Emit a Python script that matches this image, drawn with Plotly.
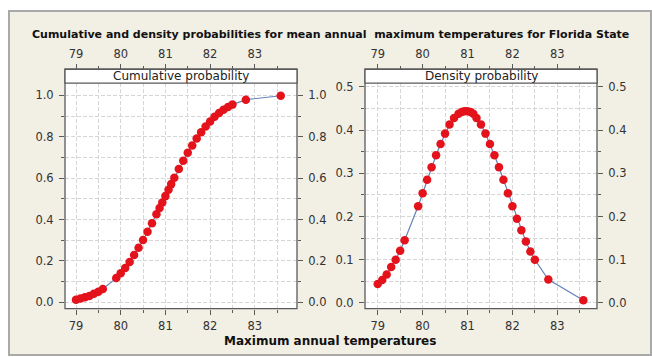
import plotly.graph_objects as go

# ---- data ----
temps = [79.0, 79.1, 79.2, 79.3, 79.4, 79.5, 79.6, 79.9, 80.0, 80.1, 80.2, 80.3, 80.4,
         80.5, 80.6, 80.7, 80.8, 80.87, 80.93, 81.0, 81.07, 81.13, 81.2, 81.3, 81.4,
         81.5, 81.6, 81.7, 81.8, 81.9, 82.0, 82.1, 82.2, 82.3, 82.4, 82.5, 82.8, 83.58]
cumulative = [0.013, 0.019, 0.024, 0.031, 0.041, 0.051, 0.064, 0.117, 0.140, 0.166, 0.195,
              0.229, 0.264, 0.301, 0.341, 0.382, 0.425, 0.456, 0.482, 0.513, 0.544, 0.571,
              0.602, 0.644, 0.684, 0.722, 0.758, 0.791, 0.821, 0.849, 0.873, 0.896, 0.915,
              0.930, 0.944, 0.955, 0.979, 0.998]
density = [0.044, 0.053, 0.066, 0.083, 0.100, 0.121, 0.145, 0.224, 0.254, 0.285, 0.314,
           0.342, 0.368, 0.392, 0.413, 0.428, 0.438, 0.442, 0.444, 0.444, 0.442, 0.438,
           0.428, 0.413, 0.392, 0.368, 0.342, 0.314, 0.285, 0.254, 0.224, 0.195, 0.168,
           0.142, 0.119, 0.100, 0.054, 0.006]

x_ticks = [79, 80, 81, 82, 83]
x_minor = [79.5, 80.5, 81.5, 82.5, 83.5]
cum_ticks = [0.0, 0.2, 0.4, 0.6, 0.8, 1.0]
cum_minor = [0.1, 0.3, 0.5, 0.7, 0.9]
den_ticks = [0.0, 0.1, 0.2, 0.3, 0.4, 0.5]
den_minor = [0.05, 0.15, 0.25, 0.35, 0.45]

title_text = "Cumulative and density probabilities for mean annual  maximum temperatures for Florida State"
strip_left = "Cumulative probability"
strip_right = "Density probability"
x_title = "Maximum annual temperatures"

# ---- geometry (pixels) ----
W, H = 652, 357
def px(x): return x / W
def py(y): return 1 - y / H

L_X0, L_X1 = 65, 297
R_X0, R_X1 = 365, 597
P_Y0, P_Y1 = 81, 309   # plot area top/bottom
S_Y0 = 67              # strip top

FONT = "DejaVu Sans"
TICKC = "#333333"
FRAME = "#5a5a5a"
GRID = "#d6d6d6"
GDASH = "4px,2px"
RED = "#e3121b"
LINEC = "#6482bb"

fig = go.Figure()

def series(x, y, xa, ya):
    fig.add_trace(go.Scatter(x=x, y=y, xaxis=xa, yaxis=ya, mode="lines+markers",
                             line=dict(color=LINEC, width=1.2),
                             marker=dict(color=RED, size=8.5, line=dict(width=0)),
                             showlegend=False, hoverinfo="skip"))

def dummy(xa, ya):
    fig.add_trace(go.Scatter(x=[None], y=[None], xaxis=xa, yaxis=ya, mode="markers",
                             showlegend=False, hoverinfo="skip"))

series(temps, cumulative, "x", "y")
series(temps, density, "x2", "y2")
dummy("x3", "y")
dummy("x4", "y2")
dummy("x", "y3")
dummy("x2", "y4")

xr_left = [78.754, 83.944]
xr_right = [78.717, 83.884]
yr_left = [-0.030, 1.059]
yr_right = [-0.013, 0.509]

tickfont = dict(family=FONT, size=11.5, color=TICKC)

def xaxis_cfg(domain, rng, side="bottom", grid=True, **kw):
    d = dict(domain=domain, range=rng, tickmode="array", tickvals=x_ticks,
             ticks="outside", ticklen=5, tickwidth=1, tickcolor=FRAME,
             showline=False, zeroline=False, tickfont=tickfont, side=side,
             showgrid=grid, gridcolor=GRID, griddash=GDASH, gridwidth=1,
             minor=dict(tickvals=x_minor, ticks="outside", ticklen=3, tickcolor=FRAME,
                        showgrid=grid, gridcolor=GRID, griddash=GDASH, gridwidth=1),
             fixedrange=True, ticklabelstandoff=2)
    d.update(kw)
    return d

def yaxis_cfg(domain, rng, tv, mv, side="left", grid=True, **kw):
    d = dict(domain=domain, range=rng, tickmode="array", tickvals=tv,
             ticktext=[f"{v:.1f}" for v in tv],
             ticks="outside", ticklen=5, tickwidth=1, tickcolor=FRAME,
             showline=False, zeroline=False, tickfont=tickfont, side=side,
             showgrid=grid, gridcolor=GRID, griddash=GDASH, gridwidth=1,
             minor=dict(tickvals=mv, ticks="outside", ticklen=3, tickcolor=FRAME,
                        showgrid=grid, gridcolor=GRID, griddash=GDASH, gridwidth=1),
             fixedrange=True, ticklabelstandoff=3)
    d.update(kw)
    return d

ydom = [py(P_Y1), py(P_Y0)]
top_pos = py(S_Y0)

fig.update_layout(
    width=W, height=H, margin=dict(l=0, r=0, t=0, b=0),
    paper_bgcolor="white", plot_bgcolor="rgba(0,0,0,0)",
    xaxis=xaxis_cfg([px(L_X0), px(L_X1)], xr_left, anchor="y"),
    xaxis2=xaxis_cfg([px(R_X0), px(R_X1)], xr_right, anchor="y2"),
    xaxis3=xaxis_cfg([px(L_X0), px(L_X1)], xr_left, side="top", grid=False,
                     overlaying="x", anchor="free", position=top_pos),
    xaxis4=xaxis_cfg([px(R_X0), px(R_X1)], xr_right, side="top", grid=False,
                     overlaying="x2", anchor="free", position=top_pos),
    yaxis=yaxis_cfg(ydom, yr_left, cum_ticks, cum_minor, anchor="x"),
    yaxis2=yaxis_cfg(ydom, yr_right, den_ticks, den_minor, anchor="x2"),
    yaxis3=yaxis_cfg(ydom, yr_left, cum_ticks, cum_minor, side="right", grid=False,
                     overlaying="y", anchor="x"),
    yaxis4=yaxis_cfg(ydom, yr_right, den_ticks, den_minor, side="right", grid=False,
                     overlaying="y2", anchor="x2"),
)

shapes = [
    # outer beige frame
    dict(type="rect", xref="paper", yref="paper", x0=px(9), x1=px(651), y0=py(356), y1=py(8),
         fillcolor="#f2efe5", line=dict(color="#a9a9a9", width=2), layer="below"),
]
for x0, x1 in [(L_X0, L_X1), (R_X0, R_X1)]:
    shapes.append(dict(type="rect", xref="paper", yref="paper", x0=px(x0), x1=px(x1),
                       y0=py(P_Y1), y1=py(P_Y0), fillcolor="white", line=dict(width=0),
                       layer="below"))
    shapes.append(dict(type="rect", xref="paper", yref="paper", x0=px(x0), x1=px(x1),
                       y0=py(P_Y1), y1=py(S_Y0), fillcolor="rgba(0,0,0,0)",
                       line=dict(color=FRAME, width=1.3), layer="above"))
    shapes.append(dict(type="rect", xref="paper", yref="paper", x0=px(x0), x1=px(x1),
                       y0=py(P_Y0), y1=py(S_Y0), fillcolor="white",
                       line=dict(color=FRAME, width=1.3), layer="above"))
fig.update_layout(shapes=shapes)

ann = [
    dict(text=f"<b>{title_text}</b>", x=px(331), y=py(32), xref="paper", yref="paper",
         showarrow=False, font=dict(family=FONT, size=11, color="#111111"),
         xanchor="center", yanchor="middle"),
    dict(text=strip_left, x=px((L_X0 + L_X1) / 2), y=py((S_Y0 + P_Y0) / 2), xref="paper",
         yref="paper", showarrow=False, font=dict(family=FONT, size=12, color="#222222"),
         xanchor="center", yanchor="middle"),
    dict(text=strip_right, x=px((R_X0 + R_X1) / 2), y=py((S_Y0 + P_Y0) / 2), xref="paper",
         yref="paper", showarrow=False, font=dict(family=FONT, size=12, color="#222222"),
         xanchor="center", yanchor="middle"),
    dict(text=f"<b>{x_title}</b>", x=px(330), y=py(342), xref="paper", yref="paper",
         showarrow=False, font=dict(family=FONT, size=12, color="#111111"),
         xanchor="center", yanchor="middle"),
]
fig.update_layout(annotations=ann)

fig.write_html("out.html")
